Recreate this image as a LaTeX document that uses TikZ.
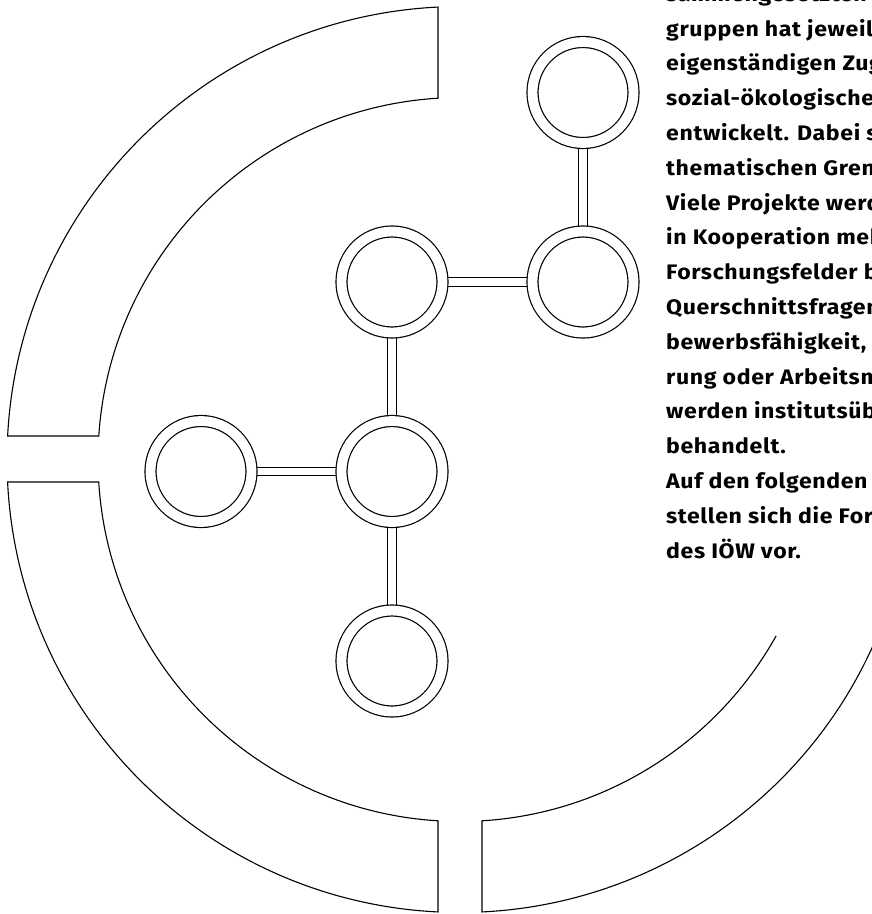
\documentclass[tikz,border=0pt]{standalone}
\usepackage{fontspec}
\newfontfamily\blocktext{Fira Sans}[FakeStretch=1.1, LetterSpace=3.0]
\usetikzlibrary{backgrounds,calc}
\begin{document}
\begin{tikzpicture}[x=1pt,y=-1pt,
  ring/.style={line width=1.1pt, line join=miter},
  hub/.style={circle, draw, double, double distance=9.8pt, line width=1.2pt,
    fill=white, minimum size=101pt, inner sep=0pt},
  link/.style={draw, double, double distance=7.3pt, line width=1.2pt},
  txt/.style={anchor=base west, inner sep=0pt,
    font=\blocktext\bfseries\fontsize{21}{25}\selectfont}]

\useasboundingbox (0,0) rectangle (872,914);
\clip (0,0) rectangle (872,914);

% outer ring, cut into segments
\coordinate (C) at (460,459.5);
\pgfmathsetmacro\Ro{453}
\pgfmathsetmacro\Ri{362}

% upper left segment
\pgfmathsetmacro\aOs{180+asin(23.5/\Ro)}
\pgfmathsetmacro\aOe{270-asin(22/\Ro)}
\pgfmathsetmacro\aIs{270-asin(22/\Ri)}
\pgfmathsetmacro\aIe{180+asin(23.5/\Ri)}
\draw[ring] ($(C)+(\aOs:\Ro)$) arc[start angle=\aOs, end angle=\aOe, radius=\Ro]
  -- ($(C)+(\aIs:\Ri)$) arc[start angle=\aIs, end angle=\aIe, radius=\Ri] -- cycle;

% lower left segment
\pgfmathsetmacro\bOs{180-asin(22.5/\Ro)}
\pgfmathsetmacro\bOe{90+asin(22/\Ro)}
\pgfmathsetmacro\bIs{90+asin(22/\Ri)}
\pgfmathsetmacro\bIe{180-asin(22.5/\Ri)}
\draw[ring] ($(C)+(\bOs:\Ro)$) arc[start angle=\bOs, end angle=\bOe, radius=\Ro]
  -- ($(C)+(\bIs:\Ri)$) arc[start angle=\bIs, end angle=\bIe, radius=\Ri] -- cycle;

% lower right segment
\pgfmathsetmacro\cIs{29.15}
\pgfmathsetmacro\cIe{90-asin(22/\Ri)}
\pgfmathsetmacro\cOs{90-asin(22/\Ro)}
\draw[ring] ($(C)+(\cIs:\Ri)$) arc[start angle=\cIs, end angle=\cIe, radius=\Ri]
  -- ($(C)+(\cOs:\Ro)$) arc[start angle=\cOs, end angle=15, radius=\Ro];

% molecule of research fields
\node[hub] (n1) at (583,92.5) {};
\node[hub] (n2) at (583,282) {};
\node[hub] (n3) at (392,282) {};
\node[hub] (n4) at (392,471.5) {};
\node[hub] (n5) at (201,471.5) {};
\node[hub] (n6) at (392,661) {};

\begin{scope}[on background layer]
  \path[link] (n1) -- (n2);
  \path[link] (n3) -- (n2);
  \path[link] (n3) -- (n4);
  \path[link] (n5) -- (n4);
  \path[link] (n4) -- (n6);
\end{scope}

% running text
\foreach \s [count=\i] in {%
sammengesetzten,%
gruppen hat jeweil,%
eigenständigen Zug,%
sozial-ökologischen,%
entwickelt. Dabei s,%
thematischen Gren,%
Viele Projekte werd,%
in Kooperation meh,%
Forschungsfelder b,%
Querschnittsfragen,%
{bewerbsfähigkeit, G},%
rung oder Arbeitsm,%
werden institutsüb,%
behandelt.,%
Auf den folgenden,%
stellen sich die Fors,%
des IÖW vor.%
}
  \node[txt] (t\i) at (666,{1.2+34.8*(\i-1)}) {\s};

\end{tikzpicture}
\end{document}
